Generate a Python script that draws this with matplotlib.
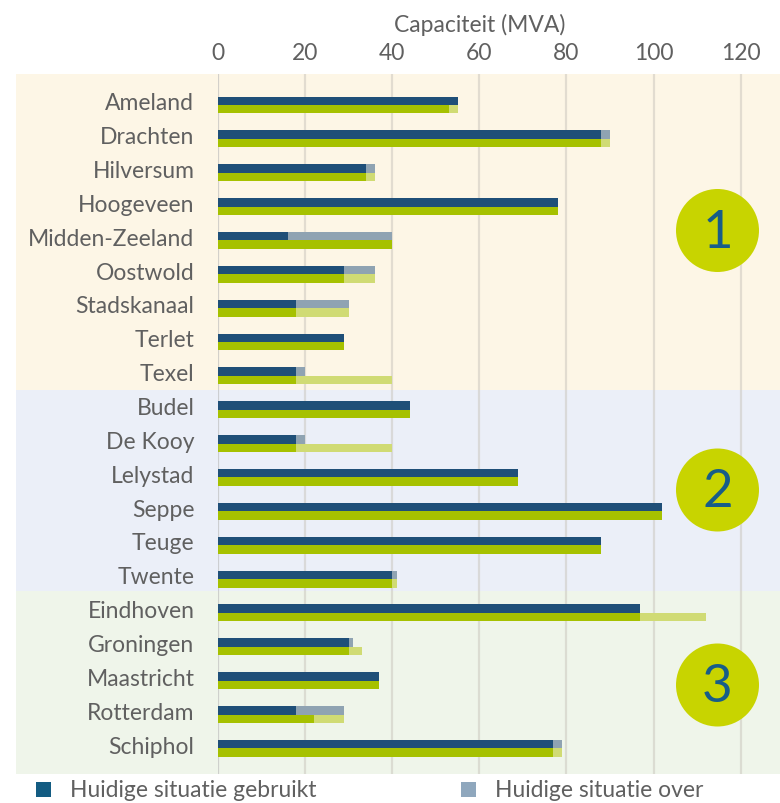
import matplotlib
matplotlib.use("Agg")
import matplotlib.pyplot as plt
from matplotlib.patches import Rectangle, Ellipse
from matplotlib.transforms import blended_transform_factory
import numpy as np

plt.rcParams['font.family'] = ['Lato', 'DejaVu Sans']

# ---- data ----
locaties = ["Ameland", "Drachten", "Hilversum", "Hoogeveen", "Midden-Zeeland",
            "Oostwold", "Stadskanaal", "Terlet", "Texel", "Budel", "De Kooy",
            "Lelystad", "Seppe", "Teuge", "Twente", "Eindhoven", "Groningen",
            "Maastricht", "Rotterdam", "Schiphol"]
huidig_gebruikt = [55, 88, 34, 78, 16, 29, 18, 29, 18, 44, 18, 69, 102, 88, 40, 97, 30, 37, 18, 77]
huidig_over =     [0, 2, 2, 0, 24, 7, 12, 0, 2, 0, 2, 0, 0, 0, 1, 0, 1, 0, 11, 2]
toekomst_gebruikt = [53, 88, 34, 78, 40, 29, 18, 29, 18, 44, 18, 69, 102, 88, 40, 97, 30, 37, 22, 77]
toekomst_over =     [2, 2, 2, 0, 0, 7, 12, 0, 22, 0, 22, 0, 0, 0, 1, 15, 3, 0, 7, 2]
x_ticks = [0, 20, 40, 60, 80, 100, 120]
groepen = ["1", "2", "3"]
groep_grenzen = [-0.9155, 8.408, 14.353, 19.757]
legenda = ["Huidige situatie gebruikt", "Huidige situatie over"]

# ---- style ----
c_dark = "#1f4f78"
c_grey = "#8fa3b2"
c_green = "#a6c100"
c_lgreen = "#d0db74"
band_colors = ["#fdf6e6", "#ebeff8", "#eff5ea"]
txt = "#606060"
fs = 16.5

fig = plt.figure(figsize=(7.8, 8.04), dpi=100)
fig.patch.set_facecolor("white")
ax = fig.add_axes([218/780, 29/804, 562/780, 700/804])
ax.set_facecolor("none")

y = np.arange(len(locaties))
h = 0.25
hg = np.array(huidig_gebruikt)
tg = np.array(toekomst_gebruikt)
ax.barh(y - h/2, hg, height=h, color=c_dark, zorder=3)
ax.barh(y - h/2, huidig_over, left=hg, height=h, color=c_grey, zorder=3)
ax.barh(y + h/2, tg, height=h, color=c_green, zorder=3)
ax.barh(y + h/2, toekomst_over, left=tg, height=h, color=c_lgreen, zorder=3)

ax.set_xlim(0, 562/4.355)
ax.set_ylim(groep_grenzen[-1], groep_grenzen[0])

# bands
bt = blended_transform_factory(fig.transFigure, ax.transData)
for i in range(3):
    r = Rectangle((16/780, groep_grenzen[i]), 1 - 16/780, groep_grenzen[i+1] - groep_grenzen[i],
                  transform=bt, facecolor=band_colors[i], edgecolor="none",
                  zorder=0, clip_on=False)
    ax.add_patch(r)

# grid
for t in x_ticks:
    ax.axvline(t, color="#b8b8b8" if t == 0 else "#c8c4bc", alpha=0.5 if t else 0.6,
               lw=1.6, zorder=1)

ax.xaxis.tick_top()
ax.set_xticks(x_ticks)
ax.set_xticklabels([str(t) for t in x_ticks], fontsize=fs, color=txt)
ax.tick_params(axis="x", length=0, pad=8)
ax.set_yticks(y - h/2)
ax.set_yticklabels(locaties, fontsize=fs, color=txt)
ax.tick_params(axis="y", length=0, pad=17)
for s in ax.spines.values():
    s.set_visible(False)

tb = blended_transform_factory(ax.transData, fig.transFigure)
ax.text(60, 1 - 25/804, "Capaciteit (MVA)", transform=tb, ha="center", va="center",
        fontsize=fs, color=txt)

# group circles
circ_y = [231.5, 491, 686]
for g, cy in zip(groepen, circ_y):
    e = Ellipse((717.5/780, 1 - cy/804), 83/780, 83/804, transform=fig.transFigure,
                facecolor="#c8d400", edgecolor="none", zorder=5)
    fig.add_artist(e)
    fig.text(717.5/780, 1 - (cy + 2)/804, g, ha="center", va="center", fontsize=38,
             color="#175d88", zorder=6)

# legend
leg_cols = ["#135c82", "#8fa7bd"]
leg_x = [36, 461]
for lab, col, lx in zip(legenda, leg_cols, leg_x):
    fig.add_artist(Rectangle((lx/780, 1 - 798/804), 15/780, 15/804, transform=fig.transFigure,
                             facecolor=col, edgecolor="none"))
    fig.text((lx + 34)/780, 1 - 791/804, lab, ha="left", va="center", fontsize=fs,
             color=txt)

fig.savefig("out.png", dpi=100, facecolor="white")
